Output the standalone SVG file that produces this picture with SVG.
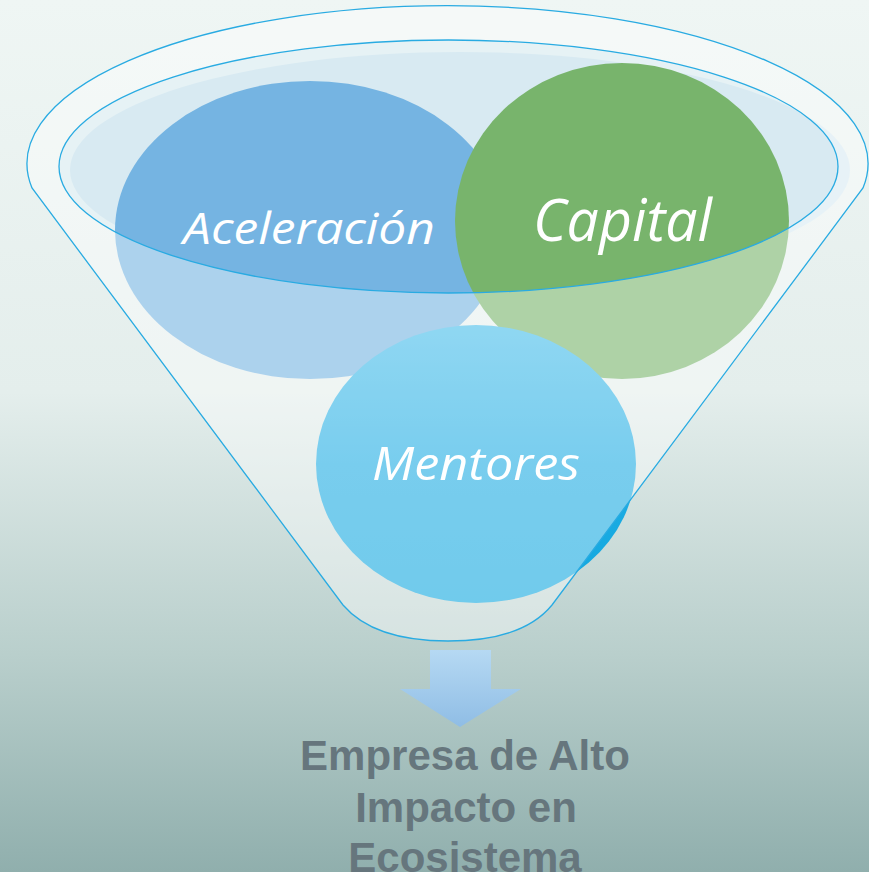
<svg xmlns="http://www.w3.org/2000/svg" width="869" height="872" viewBox="0 0 869 872">
  <defs>
    <linearGradient id="bg" x1="0" y1="0" x2="0" y2="1">
      <stop offset="0" stop-color="#eff6f4"/>
      <stop offset="0.45" stop-color="#e4eeec"/>
      <stop offset="0.75" stop-color="#b9cfcc"/>
      <stop offset="1" stop-color="#90afad"/>
    </linearGradient>
    <linearGradient id="ment" x1="0" y1="0" x2="0" y2="1">
      <stop offset="0" stop-color="#46bdea"/>
      <stop offset="0.5" stop-color="#1facE3"/>
      <stop offset="1" stop-color="#12a8df"/>
    </linearGradient>
    <linearGradient id="arrow" x1="0" y1="0" x2="0" y2="1">
      <stop offset="0" stop-color="#b6d9f3"/>
      <stop offset="1" stop-color="#8fbde5"/>
    </linearGradient>
    <style>
      .rim { fill: none; stroke: #29abe2; stroke-width: 1.3; }
      .lbl { font-family: "Open Sans", "Liberation Sans", sans-serif; font-style: italic; fill: #ffffff; }
      .out { font-family: "Liberation Sans", Arial, sans-serif; font-weight: bold; font-size: 42px; fill: #66767d; text-anchor: middle; }
    </style>
  </defs>
  <rect x="0" y="0" width="869" height="872" fill="url(#bg)"/>

  <g id="funnel-opening">
    <ellipse cx="448.5" cy="166.5" rx="389.5" ry="126.5" fill="#e6f2f5"/>
    <ellipse cx="460" cy="170" rx="390" ry="118" fill="#d8eaf2"/>
  </g>

  <g id="aceleracion">
    <ellipse cx="310" cy="230" rx="195" ry="149" fill="#75b4e2"/>
  </g>
  <g id="capital">
    <ellipse cx="622" cy="221" rx="167" ry="158" fill="#78b46c"/>
  </g>
  <g id="mentores">
    <ellipse cx="476" cy="464" rx="160" ry="139" fill="url(#ment)"/>
  </g>

  <g id="funnel-body">
    <path d="M32,188 A420.5,158 0 1,1 863,188 L552,605 C530,632 490,641 448,641 C406,641 366,632 343,605 Z M59,166.5 A389.5,126.5 0 1,0 838,166.5 A389.5,126.5 0 1,0 59,166.5 Z" fill="#ffffff" fill-opacity="0.4" fill-rule="evenodd"/>
    <path class="rim" d="M32,188 A420.5,158 0 1,1 863,188 L552,605 C530,632 490,641 448,641 C406,641 366,632 343,605 Z"/>
    <ellipse class="rim" cx="448.5" cy="166.5" rx="389.5" ry="126.5"/>
  </g>

  <g id="labels">
    <text class="lbl" x="183" y="244" font-size="44" textLength="252" lengthAdjust="spacingAndGlyphs">Aceleración</text>
    <text class="lbl" x="533" y="241" font-size="58" textLength="179" lengthAdjust="spacingAndGlyphs">Capital</text>
    <text class="lbl" x="372" y="480" font-size="46" textLength="208" lengthAdjust="spacingAndGlyphs">Mentores</text>
  </g>

  <g id="connectors">
    <path d="M430,650 H491 V689 H521 L460,727 L400,689 H430 Z" fill="url(#arrow)"/>
  </g>

  <g id="result">
    <text class="out" x="465" y="770">Empresa de Alto</text>
    <text class="out" x="466" y="822">Impacto en</text>
    <text class="out" x="465" y="872">Ecosistema</text>
  </g>
</svg>
